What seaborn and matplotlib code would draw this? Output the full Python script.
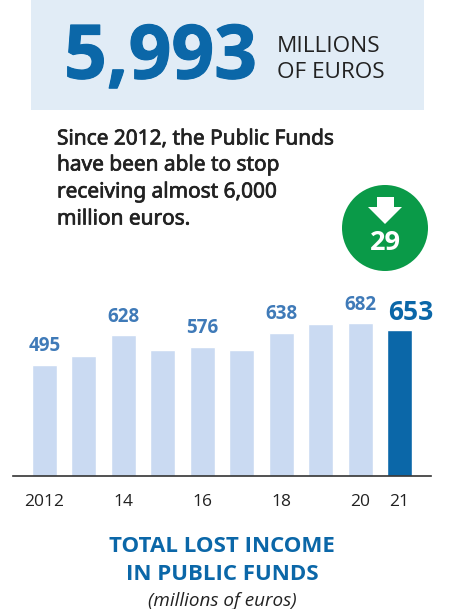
import matplotlib
matplotlib.use("Agg")
import matplotlib.pyplot as plt
from matplotlib.patches import Circle, Polygon, Rectangle
import matplotlib.patheffects as pe
import pandas as pd
import seaborn as sns

# Annual lost income in public funds, millions of euros
years = ["2012", "2013", "2014", "2015", "2016", "2017", "2018", "2019", "2020", "2021"]
lost_income = [495, 535, 628, 565, 576, 565, 638, 680, 682, 653]
labelled_years = ["2012", "2014", "2016", "2018", "2020"]
tick_text = {"2012": "2012", "2014": "14", "2016": "16", "2018": "18", "2020": "20", "2021": "21"}

headline_value = "5,993"
headline_unit = ["MILLIONS", "OF EUROS"]
summary_lines = ["Since 2012, the Public Funds", "have been able to stop",
                 "receiving almost 6,000", "million euros."]
rank_change = "29"
title_lines = ["TOTAL LOST INCOME", "IN PUBLIC FUNDS"]
subtitle = "(millions of euros)"

BLUE = "#0B67A8"
PALE = "#CADAF2"
LABEL = "#3F7AB8"
PANEL = "#E1ECF6"
GREEN = "#0A9A48"
INK = "#222222"

sns.set_theme(style="white")
plt.rcParams["font.family"] = ["Open Sans", "DejaVu Sans"]
BODY = ["Noto Sans", "DejaVu Sans"]

W, H = 449, 609
fig = plt.figure(figsize=(W / 100, H / 100), dpi=100, facecolor="white")

# Overlay in pixel units for the panel, badge and text blocks
page = fig.add_axes([0, 0, 1, 1], zorder=1)
page.set_xlim(0, W)
page.set_ylim(H, 0)
page.axis("off")
page.patch.set_alpha(0)

page.add_patch(Rectangle((31, 0), 393, 110, color=PANEL, lw=0))
page.text(64, 59, headline_value, fontsize=54, fontweight="bold", color=BLUE, va="center", ha="left",
          path_effects=[pe.withStroke(linewidth=0.8, foreground=BLUE)])
for y, line in zip((46, 72), headline_unit):
    page.text(277, y, line, fontsize=16.2, color=INK, va="center", ha="left")
# A thin outline gives the summary a medium weight
for y, line in zip((139, 165, 192, 219), summary_lines):
    page.text(57, y, line, fontsize=15, family=BODY, color=INK, va="center", ha="left",
              path_effects=[pe.withStroke(linewidth=0.5, foreground=INK)])

# Green badge with a down arrow
page.add_patch(Circle((385, 228), 43, color=GREEN, lw=0))
page.add_patch(Polygon([(377, 197), (394, 197), (394, 207), (402, 207), (385, 224),
                        (368, 207), (377, 207)], closed=True, color="white", lw=0))
page.text(385, 243, rank_change, fontsize=19.5, fontweight="bold", color="white", ha="center", va="center")

for y, line in zip((546, 574), title_lines):
    page.text(222, y, line, fontsize=16, fontweight="bold", color=BLUE, ha="center", va="center")
page.text(222, 601, subtitle, fontsize=13.6, style="italic", color=INK, ha="center", va="center")

# Bar chart
ax_left, ax_right, ax_top, ax_bottom = 13, 431, 290, 476
ax = fig.add_axes([ax_left / W, 1 - ax_bottom / H, (ax_right - ax_left) / W, (ax_bottom - ax_top) / H], zorder=2)
ax.patch.set_alpha(0)

df = pd.DataFrame({"year": years, "value": lost_income})
palette = {y: (BLUE if y == years[-1] else PALE) for y in years}
sns.barplot(data=df, x="year", y="value", hue="year", palette=palette, dodge=False,
            legend=False, width=0.634, saturation=1, ax=ax)
ax.set_xlim(-0.8, 9.8)
ax.set_ylim(0, 831)
ax.set_xlabel("")
ax.set_ylabel("")
ax.set_yticks([])
ax.set_xticks(range(len(years)))
ax.set_xticklabels([tick_text.get(y, "") for y in years], fontsize=12.5, color=INK)
ax.tick_params(axis="x", length=0, pad=13)
for side in ("top", "left", "right"):
    ax.spines[side].set_visible(False)
ax.spines["bottom"].set_color("#333333")
ax.spines["bottom"].set_linewidth(1.2)

for i, (year, value) in enumerate(zip(years, lost_income)):
    if year in labelled_years:
        ax.annotate(str(value), (i, value), xytext=(0, 13.5), textcoords="offset points",
                    ha="center", va="center", fontsize=13.5, fontweight="bold", color=LABEL)
ax.annotate(str(lost_income[-1]), (len(years) - 1, lost_income[-1]), xytext=(8, 12.5),
            textcoords="offset points", ha="center", va="center",
            fontsize=19, fontweight="bold", color=BLUE)

fig.savefig("out.png", dpi=100)
